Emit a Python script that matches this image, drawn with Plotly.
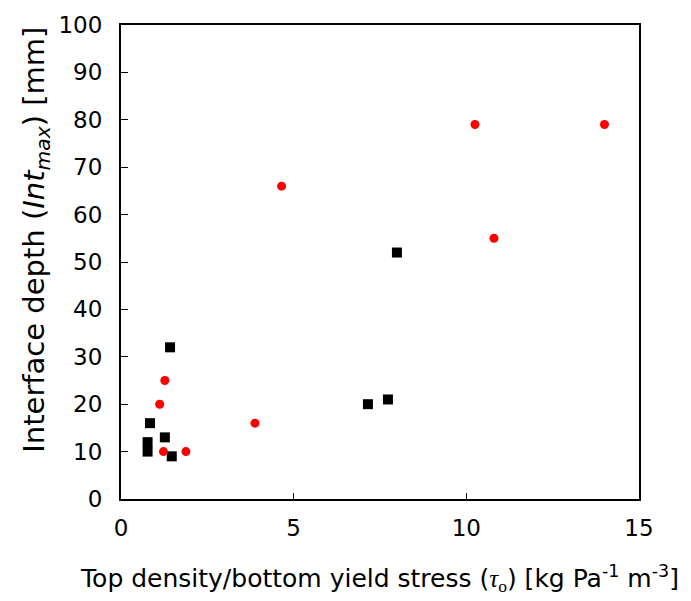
import plotly.graph_objects as go

# Red circles series
red_x = [10.25, 14.0, 4.65, 10.8, 1.27, 1.12, 3.88, 1.23, 1.88]
red_y = [79, 79, 66, 55, 25, 20, 16, 10, 10]

# Black squares series
blk_x = [1.42, 0.84, 1.27, 0.77, 0.77, 1.47, 7.99, 7.15, 7.73]
blk_y = [32, 16, 13, 12, 10, 9, 52, 20, 21]

x_ticks = [0, 5, 10, 15]
y_ticks = [0, 10, 20, 30, 40, 50, 60, 70, 80, 90, 100]

font = "DejaVu Sans, Arial, sans-serif"

fig = go.Figure()
fig.add_trace(go.Scatter(x=blk_x, y=blk_y, mode="markers",
                         marker=dict(symbol="square", size=10, color="black"),
                         showlegend=False))
fig.add_trace(go.Scatter(x=red_x, y=red_y, mode="markers",
                         marker=dict(symbol="circle", size=9, color="#ff0000"),
                         showlegend=False))

fig.update_layout(
    width=691, height=601,
    margin=dict(l=121, r=52, t=20, b=102),
    plot_bgcolor="white", paper_bgcolor="white",
    font=dict(family=font, color="black"),
    xaxis=dict(range=[0, 15], tickvals=x_ticks, ticks="inside", ticklen=6,
               tickcolor="black", showgrid=False, zeroline=False,
               showline=True, linecolor="black", linewidth=2, mirror=True,
               tickfont=dict(size=23, family=font), ticklabelstandoff=7,
               title=dict(text="Top density/bottom yield stress (<span style='font-family:Liberation Serif'><i>τ</i><sub>o</sub></span>) [kg Pa<sup>-1</sup> m<sup>-3</sup>]",
                          font=dict(size=25, family=font), standoff=30)),
    yaxis=dict(range=[0, 100], tickvals=y_ticks, ticks="inside", ticklen=7,
               tickcolor="black", showgrid=False, zeroline=False,
               showline=True, linecolor="black", linewidth=2, mirror=True,
               tickfont=dict(size=23, family=font), ticklabelstandoff=12),
    annotations=[dict(
        text="Interface depth (<i>Int</i><sub><i>max</i></sub>) [mm]",
        font=dict(size=29, family=font), textangle=-90,
        xref="paper", yref="paper", x=-121/518 + 36/518, y=(499 - 237) / 479,
        xanchor="center", yanchor="middle", showarrow=False)],
)

fig.write_html("out.html")
